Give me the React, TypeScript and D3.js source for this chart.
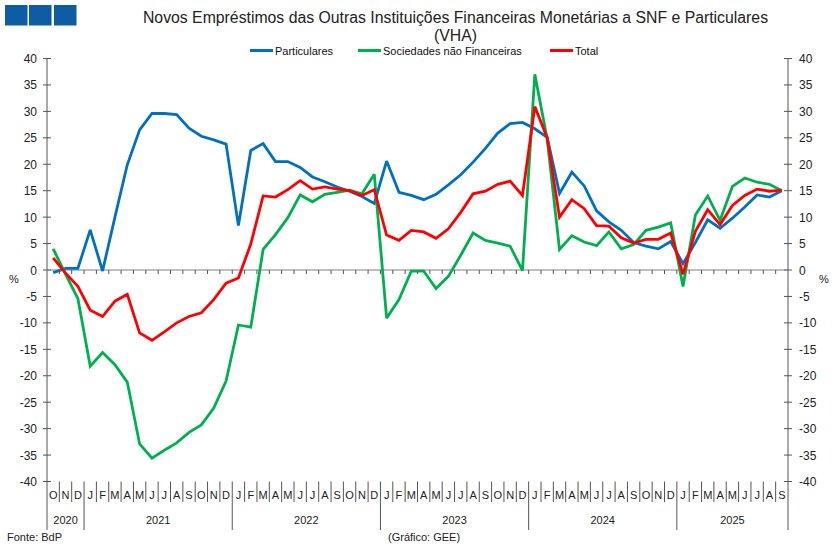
import React from "react";
import * as d3 from "d3";

// Month letters (Oct 2020 – Sep 2025) and the year groups under them
const monthLetters = [
  "O", "N", "D",
  "J", "F", "M", "A", "M", "J", "J", "A", "S", "O", "N", "D",
  "J", "F", "M", "A", "M", "J", "J", "A", "S", "O", "N", "D",
  "J", "F", "M", "A", "M", "J", "J", "A", "S", "O", "N", "D",
  "J", "F", "M", "A", "M", "J", "J", "A", "S", "O", "N", "D",
  "J", "F", "M", "A", "M", "J", "J", "A", "S",
];
const yearLabels = ["2020", "2021", "2022", "2023", "2024", "2025"];
const yearMonthCounts = [3, 12, 12, 12, 12, 9];

// Year-on-year rate of change (%)
const particulares = [
  -0.5, 0.3, 0.3, 7.6, -0.2, 10.0, 19.9, 26.5, 29.6, 29.6, 29.4, 26.8,
  25.3, 24.6, 23.8, 8.4, 22.6, 23.9, 20.5, 20.5, 19.4, 17.6, 16.7, 15.7,
  14.9, 13.9, 12.6, 20.6, 14.7, 14.1, 13.3, 14.3, 16.1, 18.0, 20.4, 23.0,
  25.9, 27.7, 27.9, 26.7, 25.1, 14.5, 18.5, 15.9, 11.2, 9.1, 7.5, 5.2,
  4.5, 4.0, 5.4, 1.2, 5.2, 9.5, 7.9, 9.8, 11.9, 14.2, 13.8, 15.0,
];
const sociedades = [
  4.0, -0.8, -5.4, -18.2, -15.6, -17.9, -21.2, -32.9, -35.6, -34.1, -32.7, -30.7,
  -29.3, -26.1, -21.0, -10.4, -10.8, 3.9, 6.7, 9.9, 14.2, 12.9, 14.3, 14.7,
  15.1, 14.4, 18.1, -9.1, -5.6, -0.2, -0.2, -3.5, -1.2, 2.8, 7.0, 5.6,
  5.1, 4.5, -0.1, 37.0, 24.8, 3.9, 6.5, 5.3, 4.6, 7.2, 4.0, 4.8,
  7.5, 8.1, 8.9, -3.1, 10.4, 14.0, 9.4, 15.8, 17.4, 16.6, 16.2, 15.0,
];
const total = [
  2.3, -0.6, -3.1, -7.6, -8.8, -5.9, -4.6, -11.9, -13.3, -11.7, -10.0, -8.8,
  -8.1, -5.6, -2.5, -1.5, 4.9, 14.0, 13.8, 15.2, 16.9, 15.3, 15.7, 15.3,
  15.0, 14.1, 15.2, 6.6, 5.6, 7.5, 7.2, 6.0, 7.8, 10.9, 14.4, 14.9,
  16.2, 16.8, 14.1, 30.9, 25.0, 10.0, 13.3, 11.6, 8.4, 8.3, 6.1, 5.1,
  5.8, 5.8, 7.0, -0.8, 7.3, 11.4, 8.6, 12.2, 14.1, 15.3, 14.9, 15.1,
];
const yTicks = [-40, -35, -30, -25, -20, -15, -10, -5, 0, 5, 10, 15, 20, 25, 30, 35, 40];

const series = [
  { name: "Particulares", values: particulares, color: "#0070C0" },
  { name: "Sociedades não Financeiras", values: sociedades, color: "#00B050" },
  { name: "Total", values: total, color: "#FF0000" },
];

const W = 839;
const H = 551;
const left = 47;
const right = 788;
const top = 58.5;
const bottom = 481.5;
const FONT = "'Liberation Sans', Arial, sans-serif";

export default function App() {
  const idx = d3.range(monthLetters.length);
  const x = d3.scaleBand<number>().domain(idx).range([left, right]).padding(0);
  const bw = x.bandwidth();
  const cx = (i: number) => (x(i) as number) + bw / 2;
  const y = d3.scaleLinear().domain([-40, 40]).range([bottom, top]);
  const y0 = y(0);

  const line = d3
    .line<number>()
    .x((_, i) => cx(i))
    .y((v) => y(v));

  // year boundary indices
  const yearStarts: number[] = [];
  let acc = 0;
  yearMonthCounts.forEach((c) => {
    yearStarts.push(acc);
    acc += c;
  });

  const legendItems = [
    { s: series[0], x: 250 },
    { s: series[1], x: 358 },
    { s: series[2], x: 550 },
  ];

  return (
    <svg
      width={W}
      height={H}
      style={{ position: "absolute", left: 0, top: 0, background: "#fff" }}
      fontFamily={FONT}
    >
      <rect x={0} y={0} width={W} height={H} fill="#fff" />
      {/* header blocks */}
      {[5, 29, 54].map((bx) => (
        <rect key={bx} x={bx} y={5} width={22.5} height={20.5} fill="#0D5CA4" />
      ))}
      <text x={455.5} y={23} textAnchor="middle" fontSize={15.8} fill="#222">
        Novos Empréstimos das Outras Instituições Financeiras Monetárias a SNF e Particulares
      </text>
      <text x={455.5} y={40.5} textAnchor="middle" fontSize={15.8} fill="#222">
        (VHA)
      </text>

      {/* legend */}
      {legendItems.map(({ s, x: lx }) => (
        <g key={s.name}>
          <line x1={lx} x2={lx + 23} y1={50.5} y2={50.5} stroke={s.color} strokeWidth={3} />
          <text x={lx + 25} y={54.5} fontSize={11} fill="#111">
            {s.name}
          </text>
        </g>
      ))}

      {/* y axes */}
      <line x1={left} x2={left} y1={top} y2={530} stroke="#555" strokeWidth={1} />
      <line x1={right} x2={right} y1={top} y2={530} stroke="#555" strokeWidth={1} />
      {yTicks.map((t) => (
        <g key={t}>
          <line x1={left - 4} x2={left + 4} y1={y(t)} y2={y(t)} stroke="#555" />
          <line x1={right - 4} x2={right + 4} y1={y(t)} y2={y(t)} stroke="#555" />
          <text x={37} y={y(t) + 4.5} textAnchor="end" fontSize={12} fill="#222">
            {t}
          </text>
          <text x={799} y={y(t) + 4.5} textAnchor="start" fontSize={12} fill="#222">
            {t}
          </text>
        </g>
      ))}
      <text x={14} y={283} textAnchor="middle" fontSize={11} fill="#222">%</text>
      <text x={824} y={283} textAnchor="middle" fontSize={11} fill="#222">%</text>

      {/* zero line with category ticks */}
      <line x1={left} x2={right} y1={y0} y2={y0} stroke="#808080" strokeWidth={1} />
      {idx.slice(1).map((i) => (
        <line
          key={"zt" + i}
          x1={x(i) as number}
          x2={x(i) as number}
          y1={y0}
          y2={y0 + 4}
          stroke="#555"
        />
      ))}

      {/* category axis: month separators, letters, years */}
      {idx.slice(1).map((i) => {
        const isYear = yearStarts.includes(i);
        return (
          <line
            key={"ms" + i}
            x1={x(i) as number}
            x2={x(i) as number}
            y1={bottom}
            y2={isYear ? 530 : 502}
            stroke="#555"
          />
        );
      })}
      {idx.map((i) => (
        <text key={"ml" + i} x={cx(i)} y={498.5} textAnchor="middle" fontSize={11} fill="#222">
          {monthLetters[i]}
        </text>
      ))}
      {yearLabels.map((yl, k) => {
        const s = yearStarts[k];
        const e = s + yearMonthCounts[k];
        const mx = ((x(s) as number) + (e >= idx.length ? right : (x(e) as number))) / 2;
        return (
          <text key={yl} x={mx} y={524} textAnchor="middle" fontSize={11} fill="#222">
            {yl}
          </text>
        );
      })}

      {/* series */}
      {series.map((s) => (
        <path
          key={s.name}
          d={line(s.values) || ""}
          fill="none"
          stroke={s.color}
          strokeWidth={2.8}
          strokeLinejoin="miter"
          strokeMiterlimit={3}
        />
      ))}

      {/* footer */}
      <text x={7} y={541} fontSize={11} fill="#222">Fonte: BdP</text>
      <text x={388} y={541} fontSize={11} fill="#222">(Gráfico: GEE)</text>
    </svg>
  );
}
